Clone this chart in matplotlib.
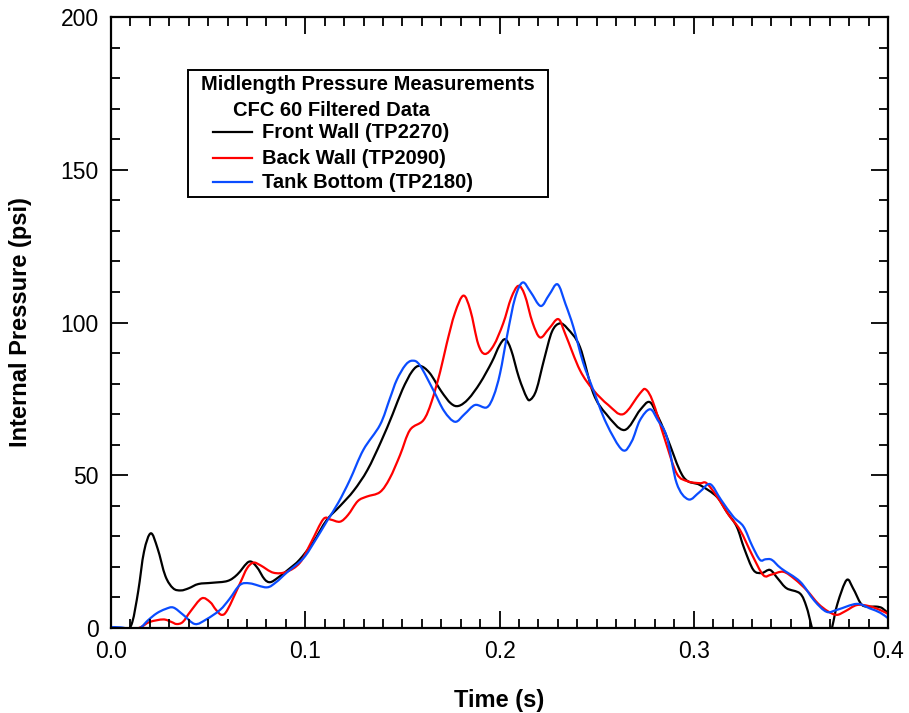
import matplotlib
matplotlib.use('Agg')
import numpy as np
import matplotlib.pyplot as plt
from matplotlib.patches import Rectangle, PathPatch
from matplotlib.path import Path
from matplotlib.lines import Line2D
from matplotlib.ticker import MultipleLocator, FormatStrFormatter

plt.rcParams['font.family'] = ['Liberation Sans', 'DejaVu Sans']

# Front Wall (TP2270)
front_t = [0.000, 0.004, 0.008, 0.011, 0.014, 0.017, 0.0205, 0.024, 0.028, 0.032,
           0.036, 0.040, 0.045, 0.052, 0.060, 0.065, 0.071, 0.075, 0.079, 0.082,
           0.086, 0.092, 0.097, 0.104, 0.111, 0.118, 0.125, 0.132, 0.139, 0.145,
           0.150, 0.155, 0.159, 0.164, 0.170, 0.175, 0.179, 0.184, 0.190, 0.196,
           0.200, 0.203, 0.206, 0.210, 0.214, 0.216, 0.219, 0.223, 0.227, 0.231,
           0.235, 0.2414, 0.2483, 0.255, 0.2643, 0.2723, 0.2771, 0.281, 0.2861, 0.2946,
           0.3032, 0.3118, 0.317, 0.3221, 0.326, 0.3307, 0.335, 0.3393, 0.3435, 0.3478,
           0.3547, 0.358, 0.3607, 0.364, 0.368, 0.3713, 0.374, 0.3787, 0.382, 0.386,
           0.389, 0.394, 0.397, 0.400]
front_p = [0.3, -0.5, -1, 2, 12, 25, 31, 26, 17, 13,
           12.3, 13, 14.4, 14.8, 15.4, 17.5, 21.7, 20, 16, 15,
           16.5, 19.5, 22.3, 28, 35.3, 40, 45, 51.7, 61, 70,
           78, 84, 85.8, 83.5, 77.5, 73.5, 72.7, 75, 80.2, 87,
           92.5, 94.5, 91, 82, 75.5, 74.8, 78, 88, 97, 99.7,
           98, 92, 76.8, 70, 64.8, 71.3, 74, 70, 62.6, 49.5,
           46.8, 43, 38, 33.2, 26, 19, 18, 19, 16, 13,
           11.3, 7, 0.4, -8, -8, 0.4, 8, 15.7, 13, 8,
           7, 7, 6.5, 4.8]

# Back Wall (TP2090)
back_t = [0.000, 0.008, 0.013, 0.016, 0.020, 0.0269, 0.031, 0.0338, 0.037, 0.041,
          0.0467, 0.051, 0.054, 0.057, 0.060, 0.0664, 0.070, 0.0733, 0.077, 0.0836,
          0.0904, 0.0973, 0.103, 0.1093, 0.113, 0.1179, 0.122, 0.127, 0.1316, 0.1385,
          0.1435, 0.1488, 0.1539, 0.1608, 0.165, 0.1695, 0.1728, 0.177, 0.1814, 0.185,
          0.189, 0.1925, 0.197, 0.2019, 0.206, 0.2097, 0.213, 0.217, 0.2209, 0.2255,
          0.2303, 0.234, 0.2414, 0.2483, 0.256, 0.2637, 0.2723, 0.2753, 0.279, 0.285,
          0.2912, 0.297, 0.3032, 0.3066, 0.312, 0.318, 0.3238, 0.330, 0.3358, 0.340,
          0.3461, 0.352, 0.3581, 0.364, 0.369, 0.3736, 0.378, 0.3839, 0.390, 0.3959,
          0.400]
back_p = [-0.5, -1, -0.3, 0.5, 2, 2.8, 2, 1.3, 2, 5.5,
          9.7, 8.5, 6, 4.3, 6, 14.6, 19.5, 21.4, 20.5, 18.1,
          18.4, 21.4, 28, 35.6, 35.5, 34.8, 37, 41.5, 43, 44.5,
          49, 56.6, 64.8, 68, 74, 84, 93, 103, 108.8, 104,
          93, 89.7, 92.5, 99.7, 108, 112, 109, 100, 95.1, 98,
          101.1, 96, 84.4, 77.9, 73, 70, 76.8, 78.1, 74, 62,
          50.6, 48, 47.4, 47.4, 43, 37, 32.1, 24, 17.3, 17.5,
          18.4, 16, 12.4, 8, 5.5, 4.3, 5.5, 7.5, 7.2, 5.9,
          4.6]

# Tank Bottom (TP2180)
tank_t = [0.000, 0.005, 0.010, 0.0149, 0.019, 0.0235, 0.028, 0.0321, 0.0372, 0.0432,
          0.049, 0.0561, 0.061, 0.0664, 0.0716, 0.0801, 0.085, 0.0904, 0.099, 0.105,
          0.111, 0.117, 0.123, 0.1299, 0.1385, 0.1435, 0.1471, 0.1515, 0.1551, 0.159,
          0.1659, 0.1715, 0.1771, 0.182, 0.1874, 0.1934, 0.197, 0.2003, 0.204, 0.208,
          0.2119, 0.216, 0.2212, 0.2255, 0.2299, 0.234, 0.238, 0.243, 0.2483, 0.255,
          0.2632, 0.268, 0.2723, 0.2775, 0.2815, 0.2861, 0.2912, 0.2972, 0.303, 0.3084,
          0.314, 0.3204, 0.3256, 0.330, 0.3341, 0.337, 0.3402, 0.345, 0.3547, 0.362,
          0.3684, 0.374, 0.3839, 0.3907, 0.396, 0.400]
tank_p = [0.3, 0.2, -0.3, 0, 2.5, 4.8, 6.2, 6.7, 4.3, 1.3,
          2.8, 5.9, 9.5, 14.1, 14.6, 13.3, 15, 18.1, 22.8, 28.5,
          34.8, 41, 48.5, 58.3, 66.5, 75, 81.2, 86, 87.5, 86,
          77.9, 71, 67.5, 70, 73, 72.2, 76, 83.4, 96, 108,
          113.1, 110, 105.4, 109, 112.5, 106, 98.6, 87, 77.9, 67,
          58.3, 61, 68, 71.6, 68, 62.6, 47.4, 42.1, 44.5, 47.1,
          42, 36.4, 33.2, 27, 22.3, 22.5, 22.3, 19.5, 15.2, 9,
          5.3, 6, 7.9, 6.4, 5, 3.2]

labels = ['Front Wall (TP2270)', 'Back Wall (TP2090)', 'Tank Bottom (TP2180)']
colors = ['#000000', '#ff0000', '#0a4cff']


def smooth_path(t, p):
    # cubic bezier through the read points (Catmull-Rom tangents)
    pts = np.column_stack([t, p])
    ext = np.vstack([pts[0], pts, pts[-1]])
    verts = [pts[0]]
    codes = [Path.MOVETO]
    for i in range(len(pts) - 1):
        p0, p1, p2, p3 = ext[i], ext[i + 1], ext[i + 2], ext[i + 3]
        verts += [p1 + (p2 - p0) / 6, p2 - (p3 - p1) / 6, p2]
        codes += [Path.CURVE4] * 3
    return Path(verts, codes)


W, H = 909, 713
fig = plt.figure(figsize=(W / 100, H / 100), dpi=100)
ax = fig.add_axes([111 / W, 1 - 628 / H, 777 / W, 611 / H])

for t, p, c in zip([front_t, back_t, tank_t], [front_p, back_p, tank_p], colors):
    ax.add_patch(PathPatch(smooth_path(t, p), facecolor='none', edgecolor=c,
                           lw=1.6, capstyle='round', joinstyle='round'))

ax.set_xlim(0, 0.4)
ax.set_ylim(0, 200)
ax.xaxis.set_major_locator(MultipleLocator(0.1))
ax.xaxis.set_minor_locator(MultipleLocator(0.01))
ax.xaxis.set_major_formatter(FormatStrFormatter('%.1f'))
ax.yaxis.set_major_locator(MultipleLocator(50))
ax.yaxis.set_minor_locator(MultipleLocator(10))
ax.tick_params(which='both', direction='in', top=True, right=True, width=1.3, labelsize=16.5)
ax.tick_params(which='major', length=12.5, pad=9)
ax.tick_params(which='minor', length=6.5)
for s in ax.spines.values():
    s.set_linewidth(1.6)

ax.set_xlabel('Time (s)', fontsize=17, fontweight='bold', labelpad=18)
ax.set_ylabel('Internal Pressure (psi)', fontsize=17, fontweight='bold', labelpad=20)


# legend box drawn in figure pixel coordinates
def fx(px):
    return px / W


def fy(py):
    return 1 - py / H


fig.patches.append(Rectangle((fx(188), fy(197)), fx(548) - fx(188), fy(70) - fy(197),
                             transform=fig.transFigure, facecolor='white',
                             edgecolor='black', lw=1.4, zorder=5))
fs = 14.5
fig.text(fx(201), fy(85), 'Midlength Pressure Measurements', fontsize=fs,
         fontweight='bold', va='center', ha='left', zorder=6)
fig.text(fx(233), fy(110), 'CFC 60 Filtered Data', fontsize=fs,
         fontweight='bold', va='center', ha='left', zorder=6)
for yy, lab, c in zip([132, 158, 182], labels, colors):
    fig.add_artist(Line2D([fx(213), fx(252)], [fy(yy), fy(yy)], color=c, lw=1.6,
                          transform=fig.transFigure, zorder=6))
    fig.text(fx(262), fy(yy), lab, fontsize=fs, fontweight='bold',
             va='center', ha='left', zorder=6)

fig.savefig('out.png', dpi=100)
